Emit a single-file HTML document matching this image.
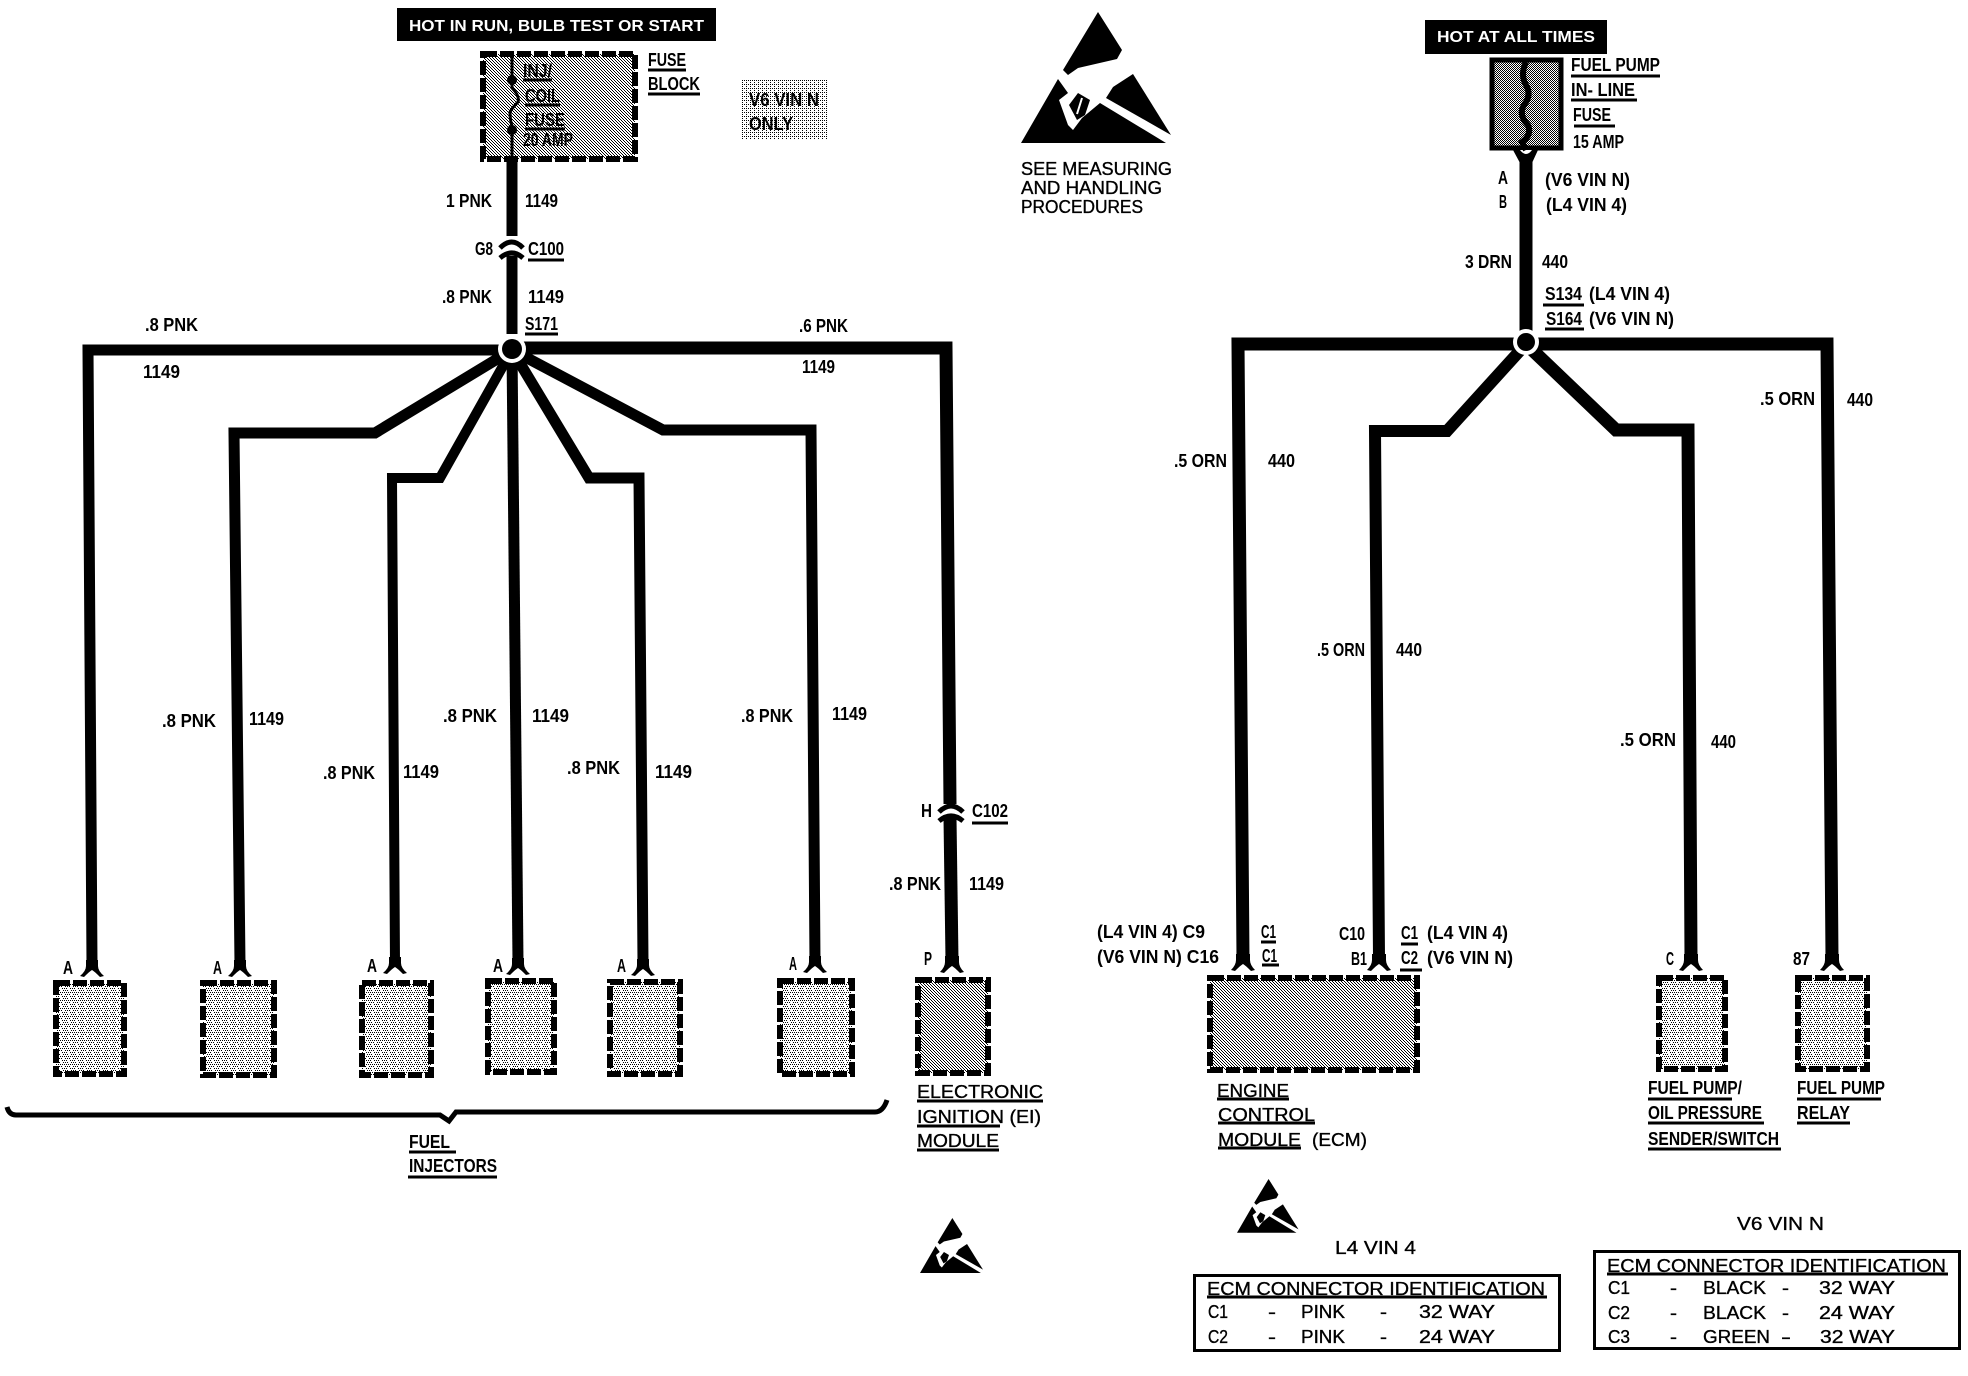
<!DOCTYPE html>
<html><head><meta charset="utf-8"><style>
html,body{margin:0;padding:0;background:#fff}
svg{display:block}
text{font-family:"Liberation Sans",sans-serif;fill:#000}
.b{font-weight:bold;font-size:18px}
.r{font-size:18px;stroke:#000;stroke-width:.35px}
.w{fill:#fff;font-size:16px;font-weight:bold}
</style></head><body>
<svg xmlns="http://www.w3.org/2000/svg" width="1968" height="1376" viewBox="0 0 1968 1376">
<defs>
<pattern id="d1" width="3" height="3" patternUnits="userSpaceOnUse"><rect width="3" height="3" fill="#fff"/><rect x="0" y="0" width="1" height="1" fill="#000"/><rect x="1" y="1" width="1" height="1" fill="#000"/><rect x="2" y="2" width="1" height="1" fill="#000"/></pattern>
<pattern id="d2" width="2" height="2" patternUnits="userSpaceOnUse"><rect width="2" height="2" fill="#fff"/><rect width="1" height="1" fill="#000"/><rect x="1" y="1" width="1" height="1" fill="#000"/></pattern>
<pattern id="d3" width="4" height="4" patternUnits="userSpaceOnUse"><rect width="4" height="4" fill="#fff"/><rect width="1" height="1" fill="#000"/><rect x="2" y="2" width="1" height="1" fill="#000"/><rect x="2" width="1" height="1" fill="#000"/></pattern>
<pattern id="d4" width="8" height="8" patternUnits="userSpaceOnUse"><rect width="8" height="8" fill="#fff"/><rect x="0" y="0" width="1" height="1" fill="#000"/><rect x="2" y="0" width="1" height="1" fill="#000"/><rect x="4" y="0" width="1" height="1" fill="#000"/><rect x="6" y="0" width="1" height="1" fill="#000"/><rect x="1" y="2" width="1" height="1" fill="#000"/><rect x="5" y="2" width="1" height="1" fill="#000"/><rect x="0" y="4" width="1" height="1" fill="#000"/><rect x="2" y="4" width="1" height="1" fill="#000"/><rect x="6" y="4" width="1" height="1" fill="#000"/><rect x="3" y="6" width="1" height="1" fill="#000"/><rect x="7" y="6" width="1" height="1" fill="#000"/><rect x="1" y="6" width="1" height="1" fill="#000"/><rect x="3" y="2" width="1" height="1" fill="#000"/></pattern>
</defs>
<rect width="1968" height="1376" fill="#fff"/>

<!-- title bars -->
<rect x="397" y="8" width="319" height="33" fill="#000"/>
<rect x="1425" y="20" width="182" height="34" fill="#000"/>
<text class="w" x="409" y="31" textLength="295" lengthAdjust="spacingAndGlyphs">HOT IN RUN, BULB TEST OR START</text>
<text class="w" x="1437" y="42" textLength="158" lengthAdjust="spacingAndGlyphs">HOT AT ALL TIMES</text>

<!-- boxes -->
<g stroke="#000" stroke-width="6" stroke-dasharray="14 3" fill="url(#d4)">
<rect x="483" y="54" width="152" height="105" fill="url(#d1)"/>
<rect x="56" y="983" width="68" height="91"/>
<rect x="203" y="983" width="71" height="92"/>
<rect x="362" y="983" width="69" height="92"/>
<rect x="488" y="981" width="66" height="91"/>
<rect x="610" y="982" width="70" height="92"/>
<rect x="780" y="981" width="72" height="93"/>
<rect x="918" y="980" width="70" height="93" fill="url(#d1)"/>
<rect x="1210" y="978" width="207" height="92" fill="url(#d1)"/>
<rect x="1659" y="978" width="66" height="91"/>
<rect x="1798" y="978" width="69" height="91"/>
</g>
<rect x="742" y="80" width="86" height="60" fill="url(#d3)"/>
<rect x="1492" y="60" width="69" height="88" fill="url(#d2)" stroke="#000" stroke-width="5"/>

<!-- wires -->
<g fill="none" stroke="#000" stroke-width="11" stroke-linejoin="miter">
<path d="M512 350 H88 L92 964"/>
<path d="M512 350 L375 433 H234 L240 964"/>
<path d="M512 350 L440 478 H392 L395 964" stroke-width="10"/>
<path d="M512 350 L518 962"/>
<path d="M512 350 L589 478 H639 L643 962"/>
<path d="M512 350 L663 430 H811 L815 962"/>
<path d="M512 348 H946 L950 804" stroke-width="13"/>
<path d="M950 818 L952 960" stroke-width="13"/>
<path d="M512 158 V236"/>
<path d="M512 256 V334"/>
<path d="M1526 158 V335" stroke-width="13"/>
<path d="M1526 344 H1238 L1243 958" stroke-width="13"/>
<path d="M1526 344 L1447 431 H1375 L1379 958" stroke-width="12"/>
<path d="M1526 344 L1616 430 H1688 L1691 958" stroke-width="13"/>
<path d="M1526 344 H1827 L1832 958" stroke-width="13"/>
</g>
<!-- forks -->
<g fill="#000">
<path transform="translate(92 976)" d="M-6 -16V-10Q-6 -5 -12 0L-8 1Q-2 -5 0 -6Q2 -5 8 1L12 0Q6 -5 6 -10V-16Z"/>
<path transform="translate(240 976)" d="M-6 -16V-10Q-6 -5 -12 0L-8 1Q-2 -5 0 -6Q2 -5 8 1L12 0Q6 -5 6 -10V-16Z"/>
<path transform="translate(395 973)" d="M-6 -16V-10Q-6 -5 -12 0L-8 1Q-2 -5 0 -6Q2 -5 8 1L12 0Q6 -5 6 -10V-16Z"/>
<path transform="translate(518 974)" d="M-6 -16V-10Q-6 -5 -12 0L-8 1Q-2 -5 0 -6Q2 -5 8 1L12 0Q6 -5 6 -10V-16Z"/>
<path transform="translate(643 975)" d="M-6 -16V-10Q-6 -5 -12 0L-8 1Q-2 -5 0 -6Q2 -5 8 1L12 0Q6 -5 6 -10V-16Z"/>
<path transform="translate(815 972)" d="M-6 -16V-10Q-6 -5 -12 0L-8 1Q-2 -5 0 -6Q2 -5 8 1L12 0Q6 -5 6 -10V-16Z"/>
<path transform="translate(952 972)" d="M-7 -16V-10Q-7 -5 -12 0L-8 1Q-2 -5 0 -6Q2 -5 8 1L12 0Q7 -5 7 -10V-16Z"/>
<path transform="translate(1243 970)" d="M-7 -16V-10Q-7 -5 -12 0L-8 1Q-2 -5 0 -6Q2 -5 8 1L12 0Q7 -5 7 -10V-16Z"/>
<path transform="translate(1379 970)" d="M-7 -16V-10Q-7 -5 -12 0L-8 1Q-2 -5 0 -6Q2 -5 8 1L12 0Q7 -5 7 -10V-16Z"/>
<path transform="translate(1691 970)" d="M-7 -16V-10Q-7 -5 -12 0L-8 1Q-2 -5 0 -6Q2 -5 8 1L12 0Q7 -5 7 -10V-16Z"/>
<path transform="translate(1832 970)" d="M-7 -16V-10Q-7 -5 -12 0L-8 1Q-2 -5 0 -6Q2 -5 8 1L12 0Q7 -5 7 -10V-16Z"/>
</g>
<!-- inline connectors -->
<path fill="none" stroke="#000" stroke-width="5" d="M500 248 Q512 236 523 248 M500 258 Q512 248 523 258 M939 812 Q951 800 963 812 M939 821 Q951 811 963 821"/>
<path fill="#000" d="M1513 150 H1538 L1532 163 H1520Z"/>
<path fill="#fff" d="M1520 150 H1532 Q1526 158 1520 150Z"/>
<!-- junctions -->
<circle cx="512" cy="349" r="14" fill="#fff"/><circle cx="512" cy="349" r="10" fill="#000"/>
<circle cx="1526" cy="342" r="13" fill="#fff"/><circle cx="1526" cy="342" r="9" fill="#000"/>
<!-- fuse internals -->
<path fill="none" stroke="#000" stroke-width="3" d="M512 54 V88 Q520 96 518 102 Q512 108 510 112 Q510 120 512 126 V158"/>
<circle cx="512" cy="80" r="5"/><circle cx="512" cy="130" r="5"/>
<path fill="none" stroke="#000" stroke-width="6" d="M1526 62 Q1520 75 1526 85 Q1532 95 1524 105 Q1518 115 1528 125 Q1532 135 1522 142 L1526 150"/>

<!-- brace -->
<path fill="none" stroke="#000" stroke-width="5" d="M7 1107 Q9 1115 16 1115 H440 L449 1121 L456 1112 H875 Q883 1112 887 1100"/>

<!-- underlines -->
<path fill="none" stroke="#000" stroke-width="3" d="M523 80H552M525 105H560M525 129H565M648 70H686M648 94H700M528 260H564M525 334H558M972 823H1008M409 1152H456M408 1177H497M917 1101H1043M917 1126H1000M917 1150H999M1571 76H1660M1571 100H1637M1574 126H1615M1543 305H1584M1545 329H1584M1261 942H1276M1262 965H1279M1401 944H1418M1400 970H1422M1217 1099H1289M1218 1123H1315M1218 1148H1301M1648 1099H1732M1648 1123H1764M1648 1149H1781M1797 1099H1881M1797 1123H1850M1207 1297H1547M1607 1274H1948"/>

<!-- tables -->
<rect x="1194.5" y="1275.5" width="365" height="75" fill="none" stroke="#000" stroke-width="3"/>
<rect x="1594.5" y="1251.5" width="365" height="97" fill="none" stroke="#000" stroke-width="3"/>

<!-- ESD icons -->
<path fill="#000" d="M1098 12L1122 50L1117 59L1078 68L1068 75L1063 70Z"/>
<path fill="#000" d="M1058 79L1068 93L1059 100L1068 125L1073 130L1082 118L1100 103L1166 143H1021Z"/>
<path fill="#000" d="M1133 74L1171 135L1106 98L1113 87Z"/>
<path fill="#000" d="M1078 93L1090 100L1085 115L1077 120L1069 105Z"/>
<path fill="none" stroke="#fff" stroke-width="2" d="M1082 98L1077 114"/>
<g transform="translate(920 1218) scale(.42) translate(-1021 -12)">
<path fill="#000" d="M1098 12L1122 50L1117 59L1078 68L1068 75L1063 70Z"/>
<path fill="#000" d="M1058 79L1068 93L1059 100L1068 125L1073 130L1082 118L1100 103L1166 143H1021Z"/>
<path fill="#000" d="M1133 74L1171 135L1106 98L1113 87Z"/>
<path fill="#000" d="M1078 93L1090 100L1085 115L1077 120L1069 105Z"/>
</g>
<g transform="translate(1237 1179) scale(.41) translate(-1021 -12)">
<path fill="#000" d="M1098 12L1122 50L1117 59L1078 68L1068 75L1063 70Z"/>
<path fill="#000" d="M1058 79L1068 93L1059 100L1068 125L1073 130L1082 118L1100 103L1166 143H1021Z"/>
<path fill="#000" d="M1133 74L1171 135L1106 98L1113 87Z"/>
<path fill="#000" d="M1078 93L1090 100L1085 115L1077 120L1069 105Z"/>
</g>

<!-- regular text -->
<text class="r" x="1021" y="175" textLength="151" lengthAdjust="spacingAndGlyphs">SEE MEASURING</text>
<text class="r" x="1021" y="194" textLength="141" lengthAdjust="spacingAndGlyphs">AND HANDLING</text>
<text class="r" x="1021" y="213" textLength="122" lengthAdjust="spacingAndGlyphs">PROCEDURES</text>
<text class="r" x="917" y="1098" textLength="126" lengthAdjust="spacingAndGlyphs">ELECTRONIC</text>
<text class="r" x="917" y="1123" textLength="124" lengthAdjust="spacingAndGlyphs">IGNITION (EI)</text>
<text class="r" x="917" y="1147" textLength="82" lengthAdjust="spacingAndGlyphs">MODULE</text>
<text class="r" x="1217" y="1097" textLength="72" lengthAdjust="spacingAndGlyphs">ENGINE</text>
<text class="r" x="1218" y="1121" textLength="97" lengthAdjust="spacingAndGlyphs">CONTROL</text>
<text class="r" x="1218" y="1146" textLength="83" lengthAdjust="spacingAndGlyphs">MODULE</text>
<text class="r" x="1312" y="1146" textLength="55" lengthAdjust="spacingAndGlyphs">(ECM)</text>
<text class="r" x="1737" y="1230" textLength="87" lengthAdjust="spacingAndGlyphs">V6 VIN N</text>
<text class="r" x="1335" y="1254" textLength="81" lengthAdjust="spacingAndGlyphs">L4 VIN 4</text>
<text class="r" x="1207" y="1295" textLength="338" lengthAdjust="spacingAndGlyphs">ECM CONNECTOR IDENTIFICATION</text>
<text class="r" x="1208" y="1318" textLength="20" lengthAdjust="spacingAndGlyphs">C1</text>
<text class="r" x="1268" y="1318" textLength="8" lengthAdjust="spacingAndGlyphs">-</text>
<text class="r" x="1301" y="1318" textLength="44" lengthAdjust="spacingAndGlyphs">PINK</text>
<text class="r" x="1380" y="1318" textLength="7" lengthAdjust="spacingAndGlyphs">-</text>
<text class="r" x="1419" y="1318" textLength="76" lengthAdjust="spacingAndGlyphs">32 WAY</text>
<text class="r" x="1208" y="1343" textLength="20" lengthAdjust="spacingAndGlyphs">C2</text>
<text class="r" x="1268" y="1343" textLength="8" lengthAdjust="spacingAndGlyphs">-</text>
<text class="r" x="1301" y="1343" textLength="44" lengthAdjust="spacingAndGlyphs">PINK</text>
<text class="r" x="1380" y="1343" textLength="7" lengthAdjust="spacingAndGlyphs">-</text>
<text class="r" x="1419" y="1343" textLength="76" lengthAdjust="spacingAndGlyphs">24 WAY</text>
<text class="r" x="1607" y="1272" textLength="339" lengthAdjust="spacingAndGlyphs">ECM CONNECTOR IDENTIFICATION</text>
<text class="r" x="1608" y="1294" textLength="22" lengthAdjust="spacingAndGlyphs">C1</text>
<text class="r" x="1670" y="1294" textLength="7" lengthAdjust="spacingAndGlyphs">-</text>
<text class="r" x="1703" y="1294" textLength="63" lengthAdjust="spacingAndGlyphs">BLACK</text>
<text class="r" x="1782" y="1294" textLength="7" lengthAdjust="spacingAndGlyphs">-</text>
<text class="r" x="1819" y="1294" textLength="76" lengthAdjust="spacingAndGlyphs">32 WAY</text>
<text class="r" x="1608" y="1319" textLength="22" lengthAdjust="spacingAndGlyphs">C2</text>
<text class="r" x="1670" y="1319" textLength="7" lengthAdjust="spacingAndGlyphs">-</text>
<text class="r" x="1703" y="1319" textLength="63" lengthAdjust="spacingAndGlyphs">BLACK</text>
<text class="r" x="1782" y="1319" textLength="7" lengthAdjust="spacingAndGlyphs">-</text>
<text class="r" x="1819" y="1319" textLength="76" lengthAdjust="spacingAndGlyphs">24 WAY</text>
<text class="r" x="1608" y="1343" textLength="22" lengthAdjust="spacingAndGlyphs">C3</text>
<text class="r" x="1670" y="1343" textLength="7" lengthAdjust="spacingAndGlyphs">-</text>
<text class="r" x="1703" y="1343" textLength="67" lengthAdjust="spacingAndGlyphs">GREEN</text>
<text class="r" x="1781" y="1343" textLength="10" lengthAdjust="spacingAndGlyphs">-</text>
<text class="r" x="1820" y="1343" textLength="75" lengthAdjust="spacingAndGlyphs">32 WAY</text>

<!-- bold labels -->
<text class="b" x="523" y="77" textLength="29" lengthAdjust="spacingAndGlyphs">INJ/</text>
<text class="b" x="525" y="102" textLength="35" lengthAdjust="spacingAndGlyphs">COIL</text>
<text class="b" x="525" y="126" textLength="40" lengthAdjust="spacingAndGlyphs">FUSE</text>
<text class="b" x="523" y="146" textLength="50" lengthAdjust="spacingAndGlyphs">20 AMP</text>
<text class="b" x="648" y="66" textLength="38" lengthAdjust="spacingAndGlyphs">FUSE</text>
<text class="b" x="648" y="90" textLength="52" lengthAdjust="spacingAndGlyphs">BLOCK</text>
<text class="b" x="749" y="106" textLength="70" lengthAdjust="spacingAndGlyphs">V6 VIN N</text>
<text class="b" x="749" y="130" textLength="44" lengthAdjust="spacingAndGlyphs">ONLY</text>
<text class="b" x="446" y="207" textLength="46" lengthAdjust="spacingAndGlyphs">1 PNK</text>
<text class="b" x="525" y="207" textLength="33" lengthAdjust="spacingAndGlyphs">1149</text>
<text class="b" x="475" y="255" textLength="18" lengthAdjust="spacingAndGlyphs">G8</text>
<text class="b" x="528" y="255" textLength="36" lengthAdjust="spacingAndGlyphs">C100</text>
<text class="b" x="442" y="303" textLength="50" lengthAdjust="spacingAndGlyphs">.8 PNK</text>
<text class="b" x="528" y="303" textLength="36" lengthAdjust="spacingAndGlyphs">1149</text>
<text class="b" x="525" y="330" textLength="33" lengthAdjust="spacingAndGlyphs">S171</text>
<text class="b" x="799" y="332" textLength="49" lengthAdjust="spacingAndGlyphs">.6 PNK</text>
<text class="b" x="802" y="373" textLength="33" lengthAdjust="spacingAndGlyphs">1149</text>
<text class="b" x="145" y="331" textLength="53" lengthAdjust="spacingAndGlyphs">.8 PNK</text>
<text class="b" x="143" y="378" textLength="37" lengthAdjust="spacingAndGlyphs">1149</text>
<text class="b" x="162" y="727" textLength="54" lengthAdjust="spacingAndGlyphs">.8 PNK</text>
<text class="b" x="249" y="725" textLength="35" lengthAdjust="spacingAndGlyphs">1149</text>
<text class="b" x="323" y="779" textLength="52" lengthAdjust="spacingAndGlyphs">.8 PNK</text>
<text class="b" x="403" y="778" textLength="36" lengthAdjust="spacingAndGlyphs">1149</text>
<text class="b" x="443" y="722" textLength="54" lengthAdjust="spacingAndGlyphs">.8 PNK</text>
<text class="b" x="532" y="722" textLength="37" lengthAdjust="spacingAndGlyphs">1149</text>
<text class="b" x="567" y="774" textLength="53" lengthAdjust="spacingAndGlyphs">.8 PNK</text>
<text class="b" x="655" y="778" textLength="37" lengthAdjust="spacingAndGlyphs">1149</text>
<text class="b" x="741" y="722" textLength="52" lengthAdjust="spacingAndGlyphs">.8 PNK</text>
<text class="b" x="832" y="720" textLength="35" lengthAdjust="spacingAndGlyphs">1149</text>
<text class="b" x="921" y="817" textLength="11" lengthAdjust="spacingAndGlyphs">H</text>
<text class="b" x="972" y="817" textLength="36" lengthAdjust="spacingAndGlyphs">C102</text>
<text class="b" x="889" y="890" textLength="52" lengthAdjust="spacingAndGlyphs">.8 PNK</text>
<text class="b" x="969" y="890" textLength="35" lengthAdjust="spacingAndGlyphs">1149</text>
<text class="b" x="63" y="974" textLength="10" lengthAdjust="spacingAndGlyphs">A</text>
<text class="b" x="213" y="974" textLength="9" lengthAdjust="spacingAndGlyphs">A</text>
<text class="b" x="367" y="972" textLength="10" lengthAdjust="spacingAndGlyphs">A</text>
<text class="b" x="493" y="972" textLength="10" lengthAdjust="spacingAndGlyphs">A</text>
<text class="b" x="617" y="972" textLength="9" lengthAdjust="spacingAndGlyphs">A</text>
<text class="b" x="789" y="970" textLength="8" lengthAdjust="spacingAndGlyphs">A</text>
<text class="b" x="924" y="965" textLength="8" lengthAdjust="spacingAndGlyphs">P</text>
<text class="b" x="409" y="1148" textLength="41" lengthAdjust="spacingAndGlyphs">FUEL</text>
<text class="b" x="409" y="1172" textLength="88" lengthAdjust="spacingAndGlyphs">INJECTORS</text>

<text class="b" x="1571" y="71" textLength="89" lengthAdjust="spacingAndGlyphs">FUEL PUMP</text>
<text class="b" x="1571" y="96" textLength="64" lengthAdjust="spacingAndGlyphs">IN- LINE</text>
<text class="b" x="1573" y="121" textLength="38" lengthAdjust="spacingAndGlyphs">FUSE</text>
<text class="b" x="1573" y="148" textLength="51" lengthAdjust="spacingAndGlyphs">15 AMP</text>
<text class="b" x="1498" y="184" textLength="10" lengthAdjust="spacingAndGlyphs">A</text>
<text class="b" x="1499" y="208" textLength="8" lengthAdjust="spacingAndGlyphs">B</text>
<text class="b" x="1545" y="186" textLength="85" lengthAdjust="spacingAndGlyphs">(V6 VIN N)</text>
<text class="b" x="1546" y="211" textLength="81" lengthAdjust="spacingAndGlyphs">(L4 VIN 4)</text>
<text class="b" x="1465" y="268" textLength="47" lengthAdjust="spacingAndGlyphs">3 DRN</text>
<text class="b" x="1542" y="268" textLength="26" lengthAdjust="spacingAndGlyphs">440</text>
<text class="b" x="1545" y="300" textLength="37" lengthAdjust="spacingAndGlyphs">S134</text>
<text class="b" x="1589" y="300" textLength="81" lengthAdjust="spacingAndGlyphs">(L4 VIN 4)</text>
<text class="b" x="1546" y="325" textLength="36" lengthAdjust="spacingAndGlyphs">S164</text>
<text class="b" x="1589" y="325" textLength="85" lengthAdjust="spacingAndGlyphs">(V6 VIN N)</text>
<text class="b" x="1174" y="467" textLength="53" lengthAdjust="spacingAndGlyphs">.5 ORN</text>
<text class="b" x="1268" y="467" textLength="27" lengthAdjust="spacingAndGlyphs">440</text>
<text class="b" x="1317" y="656" textLength="48" lengthAdjust="spacingAndGlyphs">.5 ORN</text>
<text class="b" x="1396" y="656" textLength="26" lengthAdjust="spacingAndGlyphs">440</text>
<text class="b" x="1620" y="746" textLength="56" lengthAdjust="spacingAndGlyphs">.5 ORN</text>
<text class="b" x="1711" y="748" textLength="25" lengthAdjust="spacingAndGlyphs">440</text>
<text class="b" x="1760" y="405" textLength="55" lengthAdjust="spacingAndGlyphs">.5 ORN</text>
<text class="b" x="1847" y="406" textLength="26" lengthAdjust="spacingAndGlyphs">440</text>
<text class="b" x="1097" y="938" textLength="108" lengthAdjust="spacingAndGlyphs">(L4 VIN 4) C9</text>
<text class="b" x="1097" y="963" textLength="122" lengthAdjust="spacingAndGlyphs">(V6 VIN N) C16</text>
<text class="b" x="1261" y="938" textLength="15" lengthAdjust="spacingAndGlyphs">C1</text>
<text class="b" x="1262" y="962" textLength="15" lengthAdjust="spacingAndGlyphs">C1</text>
<text class="b" x="1339" y="940" textLength="26" lengthAdjust="spacingAndGlyphs">C10</text>
<text class="b" x="1351" y="965" textLength="16" lengthAdjust="spacingAndGlyphs">B1</text>
<text class="b" x="1401" y="939" textLength="17" lengthAdjust="spacingAndGlyphs">C1</text>
<text class="b" x="1427" y="939" textLength="81" lengthAdjust="spacingAndGlyphs">(L4 VIN 4)</text>
<text class="b" x="1401" y="964" textLength="17" lengthAdjust="spacingAndGlyphs">C2</text>
<text class="b" x="1427" y="964" textLength="86" lengthAdjust="spacingAndGlyphs">(V6 VIN N)</text>
<text class="b" x="1666" y="965" textLength="8" lengthAdjust="spacingAndGlyphs">C</text>
<text class="b" x="1793" y="965" textLength="17" lengthAdjust="spacingAndGlyphs">87</text>
<text class="b" x="1648" y="1094" textLength="94" lengthAdjust="spacingAndGlyphs">FUEL PUMP/</text>
<text class="b" x="1648" y="1119" textLength="114" lengthAdjust="spacingAndGlyphs">OIL PRESSURE</text>
<text class="b" x="1648" y="1145" textLength="131" lengthAdjust="spacingAndGlyphs">SENDER/SWITCH</text>
<text class="b" x="1797" y="1094" textLength="88" lengthAdjust="spacingAndGlyphs">FUEL PUMP</text>
<text class="b" x="1797" y="1119" textLength="53" lengthAdjust="spacingAndGlyphs">RELAY</text>
</svg>
</body></html>
